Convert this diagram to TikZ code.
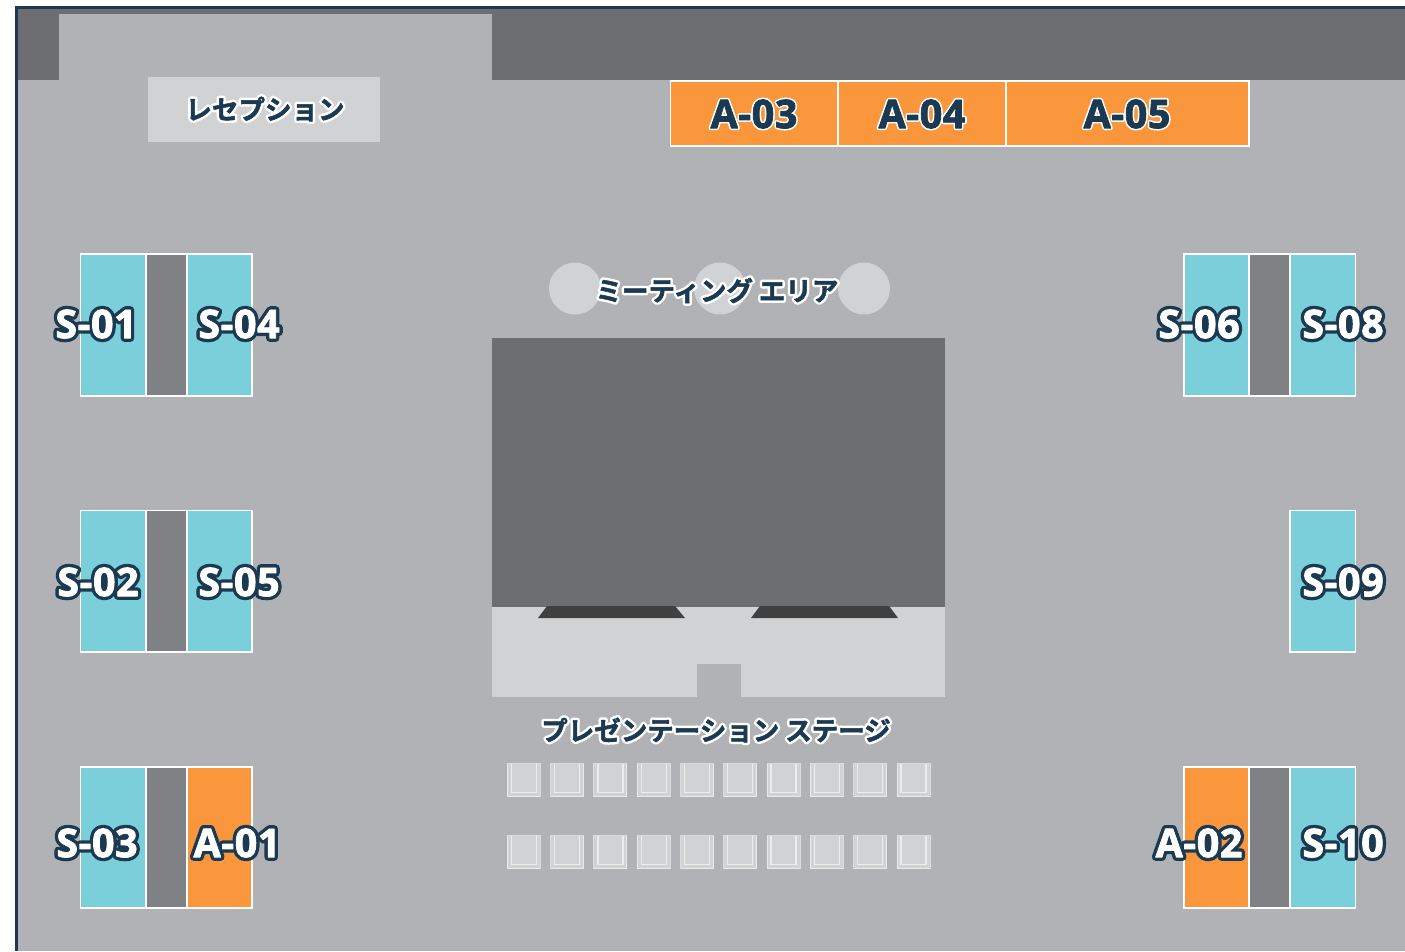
\documentclass[tikz,border=0pt]{standalone}
\usepackage{fontspec}
\setmainfont{Open Sans}[BoldFont={* Bold}]
\newfontfamily\labfont{Open Sans}[BoldFont={* Bold},LetterSpace=1.5]
\newfontfamily\jp{Noto Sans CJK JP}[BoldFont={* Bold}]
\definecolor{floorc}{HTML}{B1B2B6}
\definecolor{darkc}{HTML}{6D6E71}
\definecolor{lightc}{HTML}{D1D2D4}
\definecolor{midc}{HTML}{808184}
\definecolor{screenc}{HTML}{404041}
\definecolor{tealc}{HTML}{7BCFDB}
\definecolor{orangec}{HTML}{FA963C}
\definecolor{navy}{HTML}{1B3A52}
% #1 halo width, #2 halo rgb, #3 glyph thickening, #4 glyph rgb, #5 text
\newcommand\strokedtext[5]{\leavevmode\rlap{\special{pdf:code 1 Tr #1 w 1 J 1 j #2 RG}#5\special{pdf:code 0 Tr 1 w 0 J 0 j}}\special{pdf:code 2 Tr #3 w 1 J 1 j #4 RG}#5\special{pdf:code 0 Tr 1 w 0 J 0 j}}
\newcommand\navyrgb{0.106 0.227 0.322}
\tikzset{
  x=1pt,y=-1pt,
  cell/.style={draw=white,line width=1.8pt},
  boothS/.style={cell,fill=tealc},
  boothA/.style={cell,fill=orangec},
  boothM/.style={cell,fill=midc},
  seatbox/.style={fill=lightc,draw=white,draw opacity=.55,line width=1pt},
  seatline/.style={draw=white,draw opacity=.6,line width=1.3pt},
  lab/.style={inner sep=0pt,font=\labfont\bfseries\fontsize{39.5}{40}\selectfont,anchor=center},
  jplab/.style={inner sep=0pt,font=\jp\bfseries\fontsize{26.5}{27}\selectfont,anchor=center,text=navy},
}
\newcommand\whitelab[3]{\node[lab,text=white] (#1) at (#2) {\strokedtext{7.5}{\navyrgb}{0.8}{1 1 1}{#3}};}
\newcommand\navylab[3]{\node[lab,text=navy] (#1) at (#2) {\strokedtext{4}{1 1 1}{0.8}{\navyrgb}{#3}};}
\newcommand\jplab[3]{\node[jplab] (#1) at (#2) {\strokedtext{5.5}{1 1 1}{0.5}{\navyrgb}{#3}};}
\begin{document}
\begin{tikzpicture}
\useasboundingbox (0,0) rectangle (1405,951);
\fill[white] (0,0) rectangle (1405,951);
% floor
\fill[floorc] (16,8) rectangle (1405,951);
\fill[darkc] (16,8) rectangle (1405,80);
\fill[floorc] (59,14) rectangle (492,80);
\draw[navy,line width=3pt] (16,951) -- (16,7.5) -- (1405,7.5);
% reception
\fill[lightc] (148,77) rectangle (380,142);
% A row
\draw[boothA] (670.5,81) rectangle (838,146);
\draw[boothA] (838,81) rectangle (1006,146);
\draw[boothA] (1006,81) rectangle (1249,146);
% meeting circles
\foreach \cx in {575,720,864} \fill[lightc] (\cx,288.5) circle (26);
% stage
\fill[lightc] (492,607) rectangle (944.5,697);
\fill[darkc] (492,338) rectangle (944.5,607);
\fill[floorc] (696.5,664) rectangle (740.5,697);
\fill[screenc] (538,618) -- (547,606) -- (675,606) -- (685,618) -- cycle;
\fill[screenc] (751,618) -- (760,606) -- (889,606) -- (898,618) -- cycle;
% seats
\foreach \i in {0,...,9} \foreach \sy in {763.5,835.5} {
  \pgfmathsetmacro\sx{507.3+43.3*\i}
  \draw[seatbox] (\sx,\sy) rectangle (\sx+33,\sy+33);
  \draw[seatline] (\sx+4,\sy) -- (\sx+4,\sy+29) -- (\sx+29,\sy+29) -- (\sx+29,\sy);
}
% left booths
\draw[boothS] (80.5,254) rectangle (146,396);
\draw[boothM] (146,254) rectangle (187,396);
\draw[boothS] (187,254) rectangle (252,396);
\draw[boothS] (80.5,510.5) rectangle (146,652);
\draw[boothM] (146,510.5) rectangle (187,652);
\draw[boothS] (187,510.5) rectangle (252,652);
\draw[boothS] (80.5,767) rectangle (146,908);
\draw[boothM] (146,767) rectangle (187,908);
\draw[boothA] (187,767) rectangle (252,908);
% right booths
\draw[boothS] (1183.7,254) rectangle (1249,396);
\draw[boothM] (1249,254) rectangle (1290,396);
\draw[boothS] (1290,254) rectangle (1355.5,396);
\draw[boothS] (1290,510.5) rectangle (1355.5,652);
\draw[boothA] (1183.7,767) rectangle (1249,908);
\draw[boothM] (1249,767) rectangle (1290,908);
\draw[boothS] (1290,767) rectangle (1355.5,908);
% labels
\jplab{reception}{265,109}{レセプション}
\jplab{meeting}{717,290.5}{ミーティング エリア}
\jplab{stagelab}{716,730}{プレゼンテーション ステージ}
\navylab{a03}{754,114}{A-03}
\navylab{a04}{922,114}{A-04}
\navylab{a05}{1127,114}{A-05}
\whitelab{s01}{96,324}{S-01}
\whitelab{s04}{239,324}{S-04}
\whitelab{s02}{98,582}{S-02}
\whitelab{s05}{239,582}{S-05}
\whitelab{s03}{97,843}{S-03}
\whitelab{a01}{237,843}{A-01}
\whitelab{s06}{1199,324}{S-06}
\whitelab{s08}{1343,324}{S-08}
\whitelab{s09}{1343,582}{S-09}
\whitelab{a02}{1199,843}{A-02}
\whitelab{s10}{1343,843}{S-10}
\end{tikzpicture}
\end{document}
